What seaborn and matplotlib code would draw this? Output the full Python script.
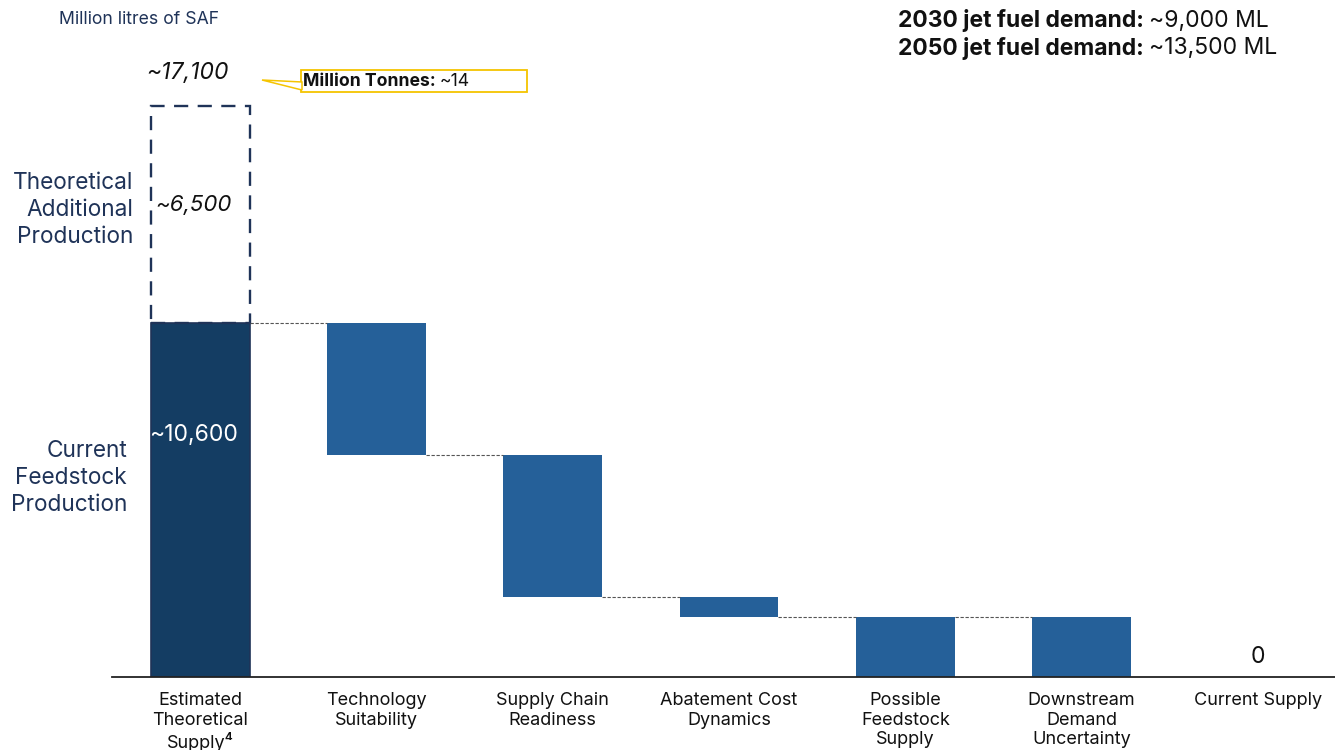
import matplotlib
matplotlib.use("Agg")
import matplotlib.pyplot as plt
import seaborn as sns
import pandas as pd
from matplotlib.patches import Rectangle, Polygon

# Waterfall data (million litres of SAF)
categories = [
    "Estimated\nTheoretical\nSupply\u2074",
    "Technology\nSuitability",
    "Supply Chain\nReadiness",
    "Abatement Cost\nDynamics",
    "Possible\nFeedstock\nSupply",
    "Downstream\nDemand\nUncertainty",
    "Current Supply",
]
bar_tops = [10600, 10600, 6650, 2400, 1800, 1800, 0]
bar_bottoms = [0, 6650, 2400, 1800, 0, 0, 0]
current_production = 10600
additional_production = 6500
total_theoretical = 17100

DARK = "#143d63"
BLUE = "#256099"
NAVY = "#1f3358"
GOLD = "#f5c400"
INK = "#111111"

sns.set_theme(style="white")
plt.rcParams["font.family"] = ["Inter", "DejaVu Sans"]

W, H = 1335, 750
fig = plt.figure(figsize=(W / 100, H / 100), dpi=100)
base_px = 677
px_per_unit = 354 / 10600
ax = fig.add_axes([112 / W, (H - base_px) / H, (W - 112) / W, base_px / H])

df = pd.DataFrame({
    "category": categories,
    "span": [t - b for t, b in zip(bar_tops, bar_bottoms)],
})
sns.barplot(data=df, x="category", y="span", bottom=bar_bottoms,
            color=BLUE, width=0.56, saturation=1, ax=ax, errorbar=None)
for i, p in enumerate(ax.patches):
    p.set_facecolor(DARK if i == 0 else BLUE)
    p.set_edgecolor(NAVY if i == 0 else "none")
    p.set_linewidth(1.2 if i == 0 else 0)

# Dashed outline for the theoretical additional production
ax.bar(0, additional_production, bottom=current_production, width=0.56,
       fill=False, edgecolor=NAVY, linewidth=1.7, linestyle=(0, (6, 4)))

# Connectors between bars
half = 0.28
for i in range(len(categories) - 2):
    level = bar_tops[i + 1]
    ax.plot([i + half, i + 1 - half], [level, level], color="#555555",
            linewidth=0.8, linestyle=(0, (3, 1.5)))

ax.set_xlim(-0.5, 6.437)
ax.set_ylim(0, base_px / px_per_unit)
ax.set_xlabel("")
ax.set_ylabel("")
ax.set_yticks([])
for s in ["top", "right", "left"]:
    ax.spines[s].set_visible(False)
ax.spines["bottom"].set_color("#222222")
ax.spines["bottom"].set_linewidth(1.3)
ax.tick_params(axis="x", length=0, pad=11, labelsize=13, colors=INK)
for lbl in ax.get_xticklabels():
    lbl.set_verticalalignment("top")
    lbl.set_linespacing(1.2)

# Value labels
ax.text(-0.07, total_theoretical + 990, f"~{total_theoretical:,}", ha="center",
        va="center", fontsize=16.5, style="italic", color=INK)
ax.text(-0.04, current_production + 3540, f"~{additional_production:,}",
        ha="center", va="center", fontsize=16, style="italic", color=INK)
ax.text(-0.04, 7250, f"~{current_production:,}", ha="center", va="center",
        fontsize=16.5, color="white")
ax.text(6, bar_tops[6] + 600, f"{bar_tops[6]}", ha="center", va="center",
        fontsize=16.5, color=INK)


def fx(x):
    return x / W


def fy(y):
    return 1 - y / H


fig.text(fx(59), fy(19), "Million litres of SAF", fontsize=12.7, color=NAVY,
         va="center", ha="left")

fig.text(fx(133), fy(210), "Theoretical\nAdditional\nProduction", fontsize=16.3,
         color=NAVY, ha="right", va="center", linespacing=1.3)
fig.text(fx(127), fy(478), "Current\nFeedstock\nProduction", fontsize=16.3,
         color=NAVY, ha="right", va="center", linespacing=1.3)

# Demand notes: bold lead-in followed by the value
renderer = fig.canvas.get_renderer()


def lead_value(x, y, lead, value, size):
    t = fig.text(fx(x), fy(y), lead, fontsize=size, fontweight="bold",
                 color=INK, va="center", ha="left")
    bb = t.get_window_extent(renderer=renderer)
    gap = size * 0.3
    fig.text((bb.x1 + gap) / W, fy(y), value, fontsize=size, color=INK,
             va="center", ha="left")


lead_value(898, 21, "2030 jet fuel demand:", "~9,000 ML", 16.5)
lead_value(898, 48, "2050 jet fuel demand:", "~13,500 ML", 16.5)

# Callout box
fig.add_artist(Rectangle((fx(301), fy(92)), (527 - 301) / W, (92 - 70) / H,
                         transform=fig.transFigure, facecolor="white",
                         edgecolor=GOLD, linewidth=1.3))
fig.add_artist(Polygon([(fx(262), fy(80)), (fx(302), fy(82)), (fx(302), fy(90))],
                       closed=True, transform=fig.transFigure,
                       facecolor="white", edgecolor=GOLD, linewidth=1.1))
lead_value(303, 82, "Million Tonnes:", "~14", 12.7)

fig.savefig("out.png", dpi=100)
